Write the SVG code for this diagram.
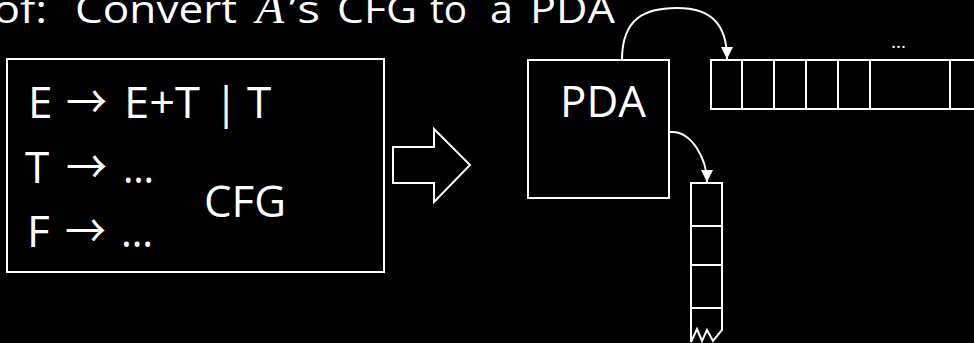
<svg xmlns="http://www.w3.org/2000/svg" width="974" height="343" viewBox="0 0 974 343">
<style>
.t{font-family:"Open Sans","DejaVu Sans",sans-serif;fill:#fff;font-size:44px}
.h{font-family:"Open Sans","DejaVu Sans",sans-serif;fill:#fff;font-size:38px}
.ar{font-family:"Noto Sans CJK SC","DejaVu Sans",sans-serif;fill:#fff;font-size:46px}
.ln{fill:none;stroke:#fff;stroke-width:2}
.cn{fill:none;stroke:#fff;stroke-width:2}
</style>
<defs>
<marker id="ah" markerUnits="userSpaceOnUse" markerWidth="12" markerHeight="12" refX="10" refY="5" orient="auto" viewBox="0 0 10 10">
<path d="M0,0 L10,5 L0,10 Z" fill="#fff"/>
</marker>
</defs>
<rect x="0" y="0" width="974" height="343" fill="#000"/>
<g id="title">
<text class="h" y="23"><tspan x="-7" textLength="54" lengthAdjust="spacingAndGlyphs">of:</tspan><tspan x="75" textLength="162" lengthAdjust="spacingAndGlyphs">Convert</tspan></text>
<text x="256" y="23" font-family="Liberation Serif,serif" font-style="italic" font-size="46" fill="#fff">A</text>
<text class="h" y="23"><tspan x="289" textLength="31" lengthAdjust="spacingAndGlyphs">’s</tspan><tspan x="337" textLength="80" lengthAdjust="spacingAndGlyphs">CFG</tspan><tspan x="430" textLength="37" lengthAdjust="spacingAndGlyphs">to</tspan><tspan x="490" textLength="23" lengthAdjust="spacingAndGlyphs">a</tspan><tspan x="530" textLength="85" lengthAdjust="spacingAndGlyphs">PDA</tspan></text>
</g>
<g id="cfg">
<rect class="ln" x="7" y="59" width="377" height="213"/>
<text class="t" y="118"><tspan x="28">E</tspan><tspan x="124" textLength="76" lengthAdjust="spacingAndGlyphs">E+T</tspan><tspan x="214">|</tspan><tspan x="247">T</tspan></text>
<text class="ar" y="118" x="66" textLength="41" lengthAdjust="spacingAndGlyphs">→</text>
<text class="t" y="183"><tspan x="25">T</tspan><tspan x="123" textLength="31" lengthAdjust="spacingAndGlyphs">…</tspan></text>
<text class="ar" y="183" x="66" textLength="41" lengthAdjust="spacingAndGlyphs">→</text>
<text class="t" y="247"><tspan x="27">F</tspan><tspan x="121" textLength="32" lengthAdjust="spacingAndGlyphs">…</tspan></text>
<text class="ar" y="247" x="65" textLength="41" lengthAdjust="spacingAndGlyphs">→</text>
<text class="t" y="217" x="204" textLength="82" lengthAdjust="spacingAndGlyphs">CFG</text>
</g>
<g id="convert-arrow">
<polygon class="ln" points="393,147 434,147 434,129 470,165 434,202 434,183 393,183"/>
</g>
<g id="pda">
<rect class="ln" x="528" y="60" width="141" height="138"/>
<text class="t" x="560" y="117" textLength="86" lengthAdjust="spacingAndGlyphs">PDA</text>
</g>
<g id="tape">
<path class="ln" d="M976,60 L711,60 L711,109 L976,109 M742,60 V109 M774,60 V109 M806,60 V109 M838,60 V109 M870,60 V109 M950,60 V109"/>
<text x="891" y="48" font-family="Open Sans,sans-serif" font-size="18" fill="#fff" textLength="15" lengthAdjust="spacingAndGlyphs">…</text>
</g>
<g id="stack">
<path class="ln" d="M691,342 L691,183 L722,183 L722,330 L713,341 L707,330 L702,341 L697,329 Z M691,226 H722 M691,265 H722 M691,308 H722"/>
</g>
<g id="connectors">
<path class="cn" d="M622,60 C622,18 645,8 677,8 C712,8 727,25 727,59" marker-end="url(#ah)"/>
<path class="cn" d="M670,132 C692,130 707,160 707,182" marker-end="url(#ah)"/>
</g>
</svg>
